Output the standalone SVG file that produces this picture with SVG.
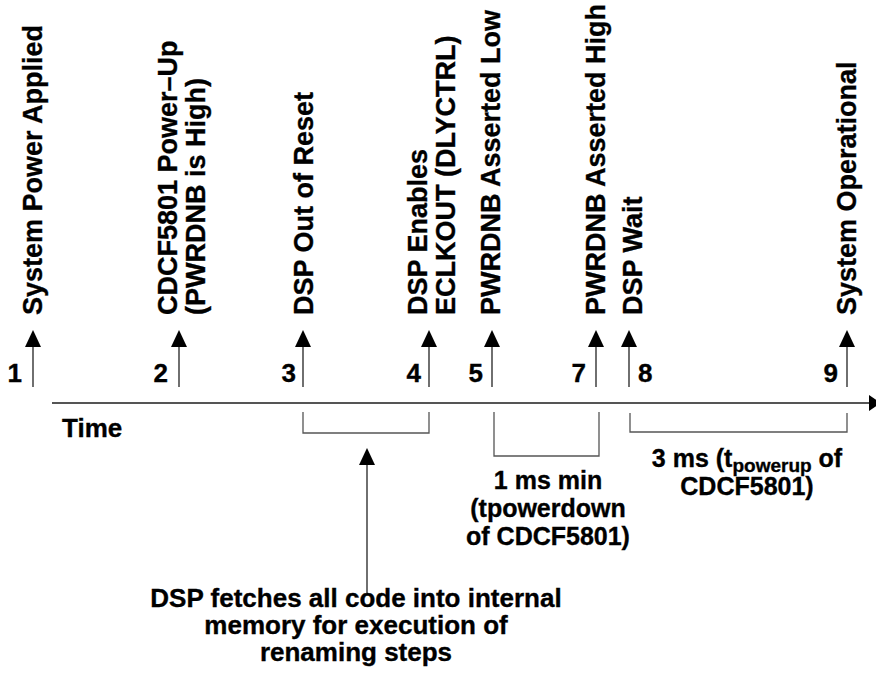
<svg xmlns="http://www.w3.org/2000/svg" width="876" height="677" viewBox="0 0 876 677">
<style>
text{font-family:"Liberation Sans",Arial,sans-serif;font-weight:bold;font-size:26px;fill:#000;stroke:#000;stroke-width:0.35}
.r{font-size:27px}
.n{font-size:25px}
.ln{stroke:#333;stroke-width:1.4;fill:none}
.br{stroke:#555;stroke-width:1.3;fill:none}
.ax{stroke:#555;stroke-width:2;fill:none}
.c{text-anchor:middle}
.e{text-anchor:end}
.sub{font-size:19px}
</style>
<rect width="876" height="677" fill="#fff"/>
<g id="connectors">
<line class="ax" x1="52" y1="403" x2="870" y2="403"/>
<polygon points="869,395 881,403 869,411" fill="#000"/>
<path class="ln" d="M33,387 V346"/><polygon points="25,347 33,330 41,347" fill="#000"/>
<path class="ln" d="M179,387 V346"/><polygon points="171,347 179,330 187,347" fill="#000"/>
<path class="ln" d="M303,387 V346"/><polygon points="295,347 303,330 311,347" fill="#000"/>
<path class="ln" d="M429,387 V346"/><polygon points="421,347 429,330 437,347" fill="#000"/>
<path class="ln" d="M492,387 V346"/><polygon points="484,347 492,330 500,347" fill="#000"/>
<path class="ln" d="M596,387 V346"/><polygon points="588,347 596,330 604,347" fill="#000"/>
<path class="ln" d="M629,387 V346"/><polygon points="621,347 629,330 637,347" fill="#000"/>
<path class="ln" d="M847,387 V346"/><polygon points="839,347 847,330 855,347" fill="#000"/>
<path class="br" d="M303,412 V433 H429 V412"/>
<path class="br" d="M494,412 V456 H599 V412"/>
<path class="br" d="M630,413 V432 H847 V413"/>
<path class="ln" d="M367,593 V464"/><polygon points="359,465 367,448 375,465" fill="#000"/>
</g>
<g id="axis-label"><text x="62" y="437">Time</text></g>
<g id="event1">
<text x="22" y="382" class="e">1</text>
<text class="r" transform="translate(42,315) rotate(-90)">System Power Applied</text>
</g>
<g id="event2">
<text x="168" y="382" class="e">2</text>
<text class="r" transform="translate(177,315) rotate(-90)">CDCF5801 Power–Up</text>
<text class="r" transform="translate(205,315) rotate(-90)">(PWRDNB is High)</text>
</g>
<g id="event3">
<text x="296" y="382" class="e">3</text>
<text class="r" transform="translate(313,315) rotate(-90)">DSP Out of Reset</text>
</g>
<g id="event4">
<text x="421" y="382" class="e">4</text>
<text class="r" transform="translate(427,315) rotate(-90)">DSP Enables</text>
<text class="r" transform="translate(455,315) rotate(-90)">ECLKOUT (DLYCTRL)</text>
</g>
<g id="event5">
<text x="483" y="382" class="e">5</text>
<text class="r" transform="translate(500,315) rotate(-90)">PWRDNB Asserted Low</text>
</g>
<g id="event7">
<text x="586" y="382" class="e">7</text>
<text class="r" transform="translate(605,315) rotate(-90)">PWRDNB Asserted High</text>
</g>
<g id="event8">
<text x="638" y="382">8</text>
<text class="r" transform="translate(642,315) rotate(-90)">DSP Wait</text>
</g>
<g id="event9">
<text x="838" y="382" class="e">9</text>
<text class="r" transform="translate(856,315) rotate(-90)">System Operational</text>
</g>
<g id="fetch-note">
<text x="356" y="607" class="c">DSP fetches all code into internal</text>
<text x="356" y="634" class="c">memory for execution of</text>
<text x="356" y="661" class="c">renaming steps</text>
</g>
<g id="powerdown-note">
<text x="548" y="489" class="c n">1 ms min</text>
<text x="548" y="517" class="c n">(tpowerdown</text>
<text x="548" y="545" class="c n">of CDCF5801)</text>
</g>
<g id="powerup-note">
<text x="747" y="467" class="c n">3 ms (t<tspan class="sub" dy="5">powerup</tspan><tspan dy="-5"> of</tspan></text>
<text x="747" y="495" class="c n">CDCF5801)</text>
</g>
</svg>
